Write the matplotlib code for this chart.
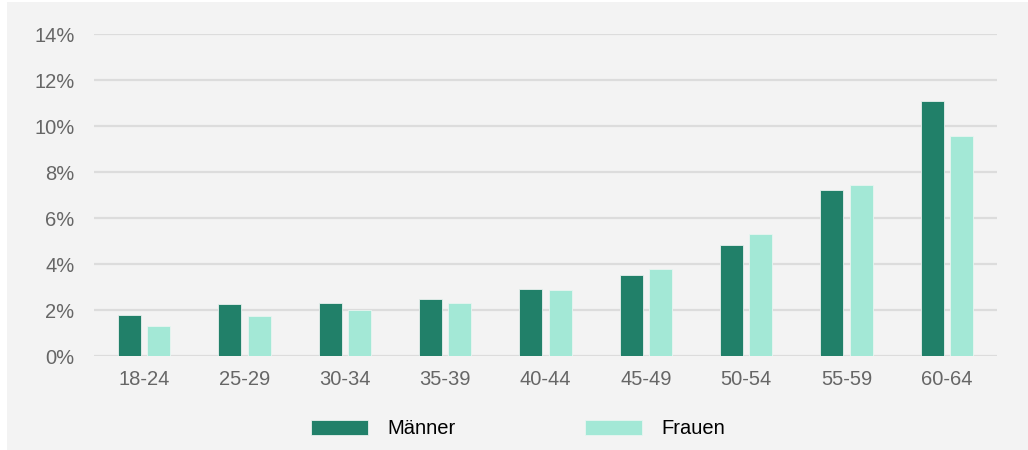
import numpy as np
import matplotlib.pyplot as plt
from matplotlib.patches import Rectangle
from matplotlib.ticker import FuncFormatter

plt.rcParams['font.family'] = ['Liberation Sans', 'DejaVu Sans']

# Anteil nach Altersgruppe (%)
groups = ['18-24', '25-29', '30-34', '35-39', '40-44', '45-49', '50-54', '55-59', '60-64']
maenner = [1.8, 2.27, 2.3, 2.5, 2.92, 3.53, 4.82, 7.2, 11.1]
frauen = [1.3, 1.75, 2.0, 2.3, 2.88, 3.78, 5.3, 7.42, 9.58]
yticks = [0, 2, 4, 6, 8, 10, 12, 14]

c_m = '#218069'
c_f = '#a3e8d6'
bg = '#f3f3f3'

fig = plt.figure(figsize=(10.28, 4.5), dpi=100, facecolor='white')
# grey panel behind the chart
fig.patches.append(Rectangle((7 / 1028, 0), 1 - 7 / 1028, 1 - 2 / 450,
                             transform=fig.transFigure, facecolor=bg,
                             edgecolor='none', zorder=-1))

ax = fig.add_axes([94 / 1028, 1 - 356 / 450, (997 - 94) / 1028, (356 - 34) / 450])
ax.set_facecolor(bg)

x = np.arange(len(groups))
w = 0.23
off = 0.145
ax.bar(x - off, maenner, w, color=c_m, edgecolor='#e8f0ee', linewidth=0.6,
       label='Männer', zorder=3)
ax.bar(x + off, frauen, w, color=c_f, edgecolor='#e8f5f1', linewidth=0.6,
       label='Frauen', zorder=3)

ax.set_xlim(-0.5, len(groups) - 0.5)
ax.set_ylim(0, 14)
ax.set_yticks(yticks)
ax.yaxis.set_major_formatter(FuncFormatter(lambda v, p: f'{v:.0f}%'))
ax.set_xticks(x)
ax.set_xticklabels(groups)
ax.grid(axis='y', color='#dcdcdc', linewidth=1.6, zorder=0)
ax.set_axisbelow(True)
for s in ax.spines.values():
    s.set_visible(False)
ax.tick_params(axis='both', length=0, labelsize=14.5, colors='#666666')
ax.tick_params(axis='y', pad=14)
ax.tick_params(axis='x', pad=10)

fig.legend(loc='center', bbox_to_anchor=(518 / 1028, 1 - 429 / 450), ncol=2,
           frameon=False, fontsize=14.5, handlelength=2.85, handleheight=0.8,
           handletextpad=0.95, columnspacing=6.4)

fig.savefig('out.png', dpi=100, facecolor=fig.get_facecolor())
